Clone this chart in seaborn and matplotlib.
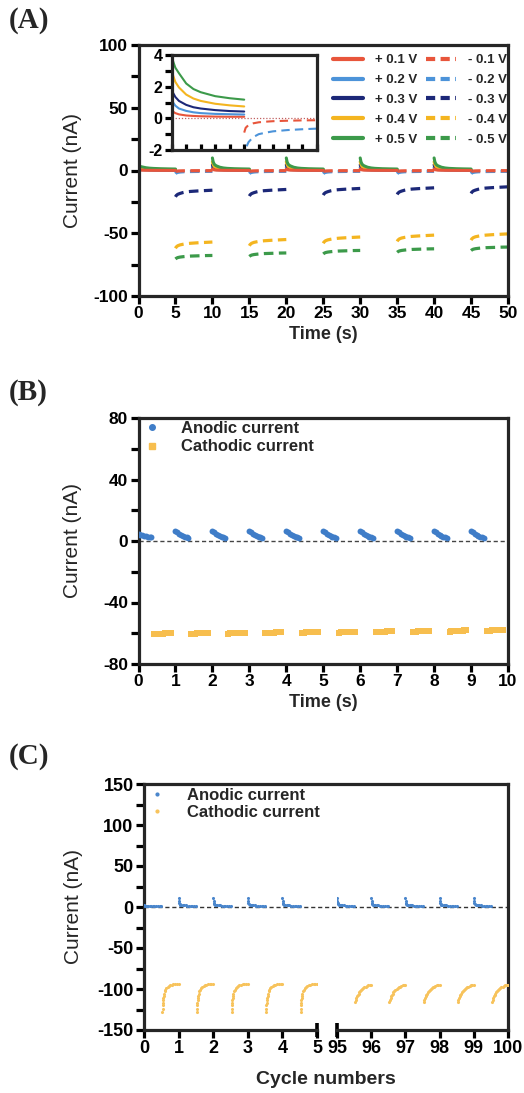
import numpy as np
import pandas as pd
import matplotlib
matplotlib.use("Agg")
import matplotlib.pyplot as plt
from matplotlib.lines import Line2D
from matplotlib.ticker import MultipleLocator
import seaborn as sns

# ------------------------------------------------------------------ data
# Panel A : current transients for +/- voltage pulses (5 s each, 10 s cycle)
voltages = ["0.1", "0.2", "0.3", "0.4", "0.5"]
colors_A = ["#E8553B", "#4C93D9", "#1C2878", "#F4B520", "#3C9A4A"]
cycle_starts_A = [0, 10, 20, 30, 40]

t_pos = [0, 0.1, 0.25, 0.5, 1.0, 1.5, 2.0, 3.0, 4.0, 5.0]
pos_first = {
    "0.1": [0.55, 0.42, 0.33, 0.25, 0.18, 0.15, 0.13, 0.11, 0.10, 0.10],
    "0.2": [1.30, 1.00, 0.80, 0.62, 0.47, 0.38, 0.33, 0.28, 0.26, 0.24],
    "0.3": [1.90, 1.60, 1.35, 1.10, 0.85, 0.70, 0.62, 0.52, 0.46, 0.43],
    "0.4": [3.10, 2.70, 2.30, 1.95, 1.50, 1.25, 1.10, 0.92, 0.82, 0.75],
    "0.5": [4.00, 3.60, 3.20, 2.85, 2.20, 1.85, 1.65, 1.40, 1.27, 1.18],
}
pos_later = {
    "0.1": [1.2, 0.8, 0.5, 0.3, 0.2, 0.15, 0.13, 0.11, 0.10, 0.10],
    "0.2": [2.5, 1.6, 1.0, 0.7, 0.5, 0.4, 0.33, 0.28, 0.26, 0.24],
    "0.3": [4.5, 3.0, 2.0, 1.3, 0.9, 0.7, 0.62, 0.52, 0.46, 0.43],
    "0.4": [7.0, 4.8, 3.2, 2.2, 1.6, 1.3, 1.10, 0.92, 0.82, 0.75],
    "0.5": [10.0, 7.0, 5.0, 3.8, 2.6, 2.0, 1.70, 1.40, 1.27, 1.18],
}
t_neg = [5.0, 5.1, 5.3, 5.6, 6.0, 6.5, 7.0, 8.0, 9.0, 10.0]
neg_profile = {
    "0.1": [-0.9, -0.6, -0.42, -0.32, -0.25, -0.21, -0.18, -0.15, -0.13, -0.12],
    "0.2": [-2.6, -1.9, -1.5, -1.2, -1.0, -0.9, -0.82, -0.74, -0.69, -0.65],
    "0.3": [-21.0, -20.0, -19.0, -18.3, -17.6, -17.0, -16.7, -16.3, -16.0, -15.7],
    "0.4": [-62.0, -61.0, -60.0, -59.3, -58.8, -58.3, -58.0, -57.6, -57.3, -57.0],
    "0.5": [-70.5, -70.0, -69.4, -69.0, -68.7, -68.4, -68.2, -68.0, -67.8, -67.7],
}
neg_shift = {
    "0.1": [0, 0, 0, 0, 0],
    "0.2": [0, 0, 0, 0, 0],
    "0.3": [0, 0.6, 1.4, 1.9, 2.7],
    "0.4": [0, 2.0, 4.0, 5.5, 6.5],
    "0.5": [0, 2.0, 4.0, 5.3, 6.7],
}

# Panel B : 10 cycles of 1 s
cycles_B = [0, 1, 2, 3, 4, 5, 6, 7, 8, 9]
anodic_B_t = [0, 0.05, 0.10, 0.15, 0.20, 0.25, 0.30, 0.35]
anodic_B_first = [4.6, 4.2, 3.8, 3.4, 3.0, 2.7, 2.5, 2.4]
anodic_B_later = [6.3, 5.6, 4.8, 4.0, 3.4, 2.8, 2.4, 2.1]
cathodic_B_t = [0.42, 0.47, 0.52, 0.57, 0.62, 0.67, 0.72, 0.77, 0.82, 0.87]
cathodic_B_level = [-60.2, -60.0, -59.8, -59.6, -59.3, -59.1, -58.9, -58.7, -58.4, -58.1]
cathodic_B_shape = [-0.5, -0.3, -0.2, -0.1, 0, 0, 0.1, 0.1, 0.2, 0.2]

# Panel C : first and last five cycles
cycles_C_early = [0, 1, 2, 3, 4]
cycles_C_late = [95, 96, 97, 98, 99]
anodic_C_t = [0, 0.01, 0.02, 0.03, 0.05, 0.08, 0.12, 0.16, 0.20, 0.25, 0.30, 0.35, 0.40, 0.45, 0.50]
anodic_C_spike = [10.5, 7.0, 4.5, 3.3, 3.0, 2.7, 2.4, 2.2, 2.0, 1.8, 1.6, 1.5, 1.4, 1.3, 1.2]
anodic_C_first = [2.0, 1.9, 1.8, 1.8, 1.7, 1.7, 1.6, 1.6, 1.5, 1.5, 1.4, 1.4, 1.3, 1.3, 1.2]
cathodic_C_t_early = [0.53, 0.535, 0.54, 0.545, 0.55, 0.56, 0.57, 0.58, 0.60, 0.62, 0.65,
                      0.68, 0.72, 0.76, 0.80, 0.85, 0.90, 0.95, 1.00]
cathodic_C_early = [-128, -124, -120, -117, -114, -111, -108, -106, -103, -101, -99,
                    -97.5, -96.5, -95.5, -95, -94.5, -94.2, -94, -94]
cathodic_C_t_late = [0.53, 0.55, 0.57, 0.59, 0.61, 0.63, 0.65, 0.68, 0.71, 0.74, 0.77,
                     0.80, 0.84, 0.88, 0.92, 0.96, 1.00]
cathodic_C_late = [-116, -113, -110.5, -108.5, -107, -105.5, -104, -102.5, -101, -100, -99,
                   -98, -97, -96.3, -95.7, -95.2, -94.8]

# ------------------------------------------------------------------ tables
rows = []
for v in voltages:
    for c, start in enumerate(cycle_starts_A):
        prof = pos_first[v] if c == 0 else pos_later[v]
        for t, i in zip(t_pos, prof):
            rows.append(dict(v=v, pol="+", cycle=c, t=start + t, i=i))
        for t, i in zip(t_neg, neg_profile[v]):
            rows.append(dict(v=v, pol="-", cycle=c, t=start + t, i=i + neg_shift[v][c]))
dfA = pd.DataFrame(rows)

rows = []
for k in cycles_B:
    prof = anodic_B_first if k == 0 else anodic_B_later
    for t, i in zip(anodic_B_t, prof):
        rows.append(dict(kind="Anodic", t=k + t, i=i))
    for t, s in zip(cathodic_B_t, cathodic_B_shape):
        rows.append(dict(kind="Cathodic", t=k + t, i=cathodic_B_level[k] + s))
dfB = pd.DataFrame(rows)

rows = []
for k in cycles_C_early + cycles_C_late:
    prof = anodic_C_first if k == 0 else anodic_C_spike
    for t, i in zip(anodic_C_t, prof):
        rows.append(dict(kind="Anodic", t=k + t, i=i))
    tt, ii = (cathodic_C_t_early, cathodic_C_early) if k < 50 else (cathodic_C_t_late, cathodic_C_late)
    for t, i in zip(tt, ii):
        rows.append(dict(kind="Cathodic", t=k + t, i=i))
dfC = pd.DataFrame(rows)

# ------------------------------------------------------------------ style
sns.set_theme(style="ticks")
plt.rcParams["font.family"] = ["Liberation Sans", "DejaVu Sans"]
plt.rcParams["axes.unicode_minus"] = False
plt.rcParams["axes.linewidth"] = 2.3
for ax_ in ("xtick", "ytick"):
    plt.rcParams[f"{ax_}.major.width"] = 2.3
    plt.rcParams[f"{ax_}.minor.width"] = 2.3
    plt.rcParams[f"{ax_}.major.size"] = 6
    plt.rcParams[f"{ax_}.minor.size"] = 6
    plt.rcParams[f"{ax_}.color"] = "black"
    plt.rcParams[f"{ax_}.major.pad"] = 1.5

W, H = 524, 1093
fig = plt.figure(figsize=(W / 100, H / 100), dpi=100)


def box(l, t, r, b):
    return [l / W, 1 - b / H, (r - l) / W, (b - t) / H]


TICK_FS = 12.5
DASH = (0, (3.0, 1.7))


def style_ticks(ax, fs=TICK_FS):
    for lab in ax.get_xticklabels() + ax.get_yticklabels():
        lab.set_fontweight("bold")
        lab.set_fontsize(fs)


# ------------------------------------------------------------------ Panel A
axA = fig.add_axes(box(138.5, 45, 508, 296))
order = ["0.2", "0.3", "0.4", "0.5", "0.1"]  # red on top
for v in order:
    col = colors_A[voltages.index(v)]
    sub = dfA[(dfA.v == v) & (dfA.pol == "-")]
    sns.lineplot(data=sub, x="t", y="i", units="cycle", estimator=None, color=col,
                 lw=2.3, linestyle=DASH, ax=axA, legend=False)
for v in order:
    col = colors_A[voltages.index(v)]
    sub = dfA[(dfA.v == v) & (dfA.pol == "+")]
    sns.lineplot(data=sub, x="t", y="i", units="cycle", estimator=None, color=col,
                 lw=2.2, ax=axA, legend=False)
axA.set_xlim(0, 50)
axA.set_ylim(-100, 100)
axA.xaxis.set_major_locator(MultipleLocator(5))
axA.yaxis.set_major_locator(MultipleLocator(50))
axA.yaxis.set_minor_locator(MultipleLocator(25))
axA.set_xlabel("Time (s)", fontsize=13, fontweight="bold", labelpad=3)
axA.set_ylabel("Current (nA)", fontsize=15, labelpad=8)
style_ticks(axA)

handles = [Line2D([], [], color=c, lw=3.0) for c in colors_A] + \
          [Line2D([], [], color=c, lw=3.0, linestyle=(0, (2.2, 1.3))) for c in colors_A]
labels = [f"+ {v} V" for v in voltages] + [f"- {v} V" for v in voltages]
axA.legend(handles, labels, ncol=2, frameon=False, loc="upper left",
           bbox_to_anchor=(333 / W, 1 - 54 / H), bbox_transform=fig.transFigure,
           prop=dict(weight="bold", size=9.5), handlelength=2.3, handletextpad=0.9,
           columnspacing=0.6, labelspacing=0.58, borderpad=0, borderaxespad=0)

# inset
axI = fig.add_axes(box(171.7, 55, 316.7, 150))
sub0 = dfA[dfA.cycle == 0]
for v in voltages:
    col = colors_A[voltages.index(v)]
    s = sub0[(sub0.v == v) & (sub0.pol == "+")]
    sns.lineplot(data=s, x="t", y="i", estimator=None, color=col, lw=1.5, ax=axI, legend=False)
    s = sub0[(sub0.v == v) & (sub0.pol == "-")]
    sns.lineplot(data=s, x="t", y="i", estimator=None, color=col, lw=1.5,
                 linestyle=(0, (4, 2.5)), ax=axI, legend=False)
axI.axhline(0, color="#c06060", lw=0.9, ls=(0, (1, 1.5)), zorder=0)
axI.set_xlim(0, 10)
axI.set_ylim(-2, 4)
axI.xaxis.set_major_locator(MultipleLocator(1))
axI.yaxis.set_major_locator(MultipleLocator(2))
axI.yaxis.set_minor_locator(MultipleLocator(1))
axI.tick_params(axis="x", direction="in", length=4, labelbottom=False)
axI.tick_params(axis="y", length=5, which="both")
axI.set_xlabel("")
axI.set_ylabel("")
style_ticks(axI, 11.5)

# ------------------------------------------------------------------ Panel B
blueB, yellowB = "#3F7DC8", "#F7BE4E"
axB = fig.add_axes(box(138.5, 418, 508, 664))
axB.axhline(0, color="#444444", lw=1.0, ls=(0, (3, 2)), zorder=1)
sns.scatterplot(data=dfB[dfB.kind == "Anodic"], x="t", y="i", color=blueB, marker="o",
                s=18, linewidth=0, ax=axB, legend=False, zorder=3)
sns.scatterplot(data=dfB[dfB.kind == "Cathodic"], x="t", y="i", color=yellowB, marker="s",
                s=20, linewidth=0, ax=axB, legend=False, zorder=3)
axB.set_xlim(0, 10)
axB.set_ylim(-80, 80)
axB.xaxis.set_major_locator(MultipleLocator(1))
axB.yaxis.set_major_locator(MultipleLocator(40))
axB.yaxis.set_minor_locator(MultipleLocator(20))
axB.set_xlabel("Time (s)", fontsize=13, fontweight="bold", labelpad=3)
axB.set_ylabel("Current (nA)", fontsize=15, labelpad=15)
style_ticks(axB)
hB = [Line2D([], [], color=blueB, marker="o", ls="none", markersize=4),
      Line2D([], [], color=yellowB, marker="s", ls="none", markersize=4)]
axB.legend(hB, ["Anodic current", "Cathodic current"], frameon=False, loc="upper left",
           bbox_to_anchor=(144 / W, 1 - 421 / H), bbox_transform=fig.transFigure,
           prop=dict(weight="bold", size=12), handlelength=1.0, handletextpad=1.2,
           labelspacing=0.2, borderpad=0, borderaxespad=0)

# ------------------------------------------------------------------ Panel C
blueC, yellowC = "#4A86CC", "#F7C35C"
axBG = fig.add_axes(box(144, 784, 508, 1030))
axBG.set_xlim(0, 1)
axBG.set_ylim(-150, 150)
axBG.axhline(0, color="#333333", lw=1.0, ls=(0, (3, 2)), zorder=1)
for sp in ("left", "right", "bottom"):
    axBG.spines[sp].set_visible(False)
axBG.set_xticks([])
axBG.set_yticks([])
axBG.patch.set_alpha(0)

axL = fig.add_axes(box(144, 784, 317, 1030))
axR = fig.add_axes(box(337, 784, 508, 1030))
for ax_, lo, hi in ((axL, 0, 5), (axR, 95, 100)):
    ax_.patch.set_alpha(0)
    sel = dfC[(dfC.t >= lo) & (dfC.t <= hi + 0.001)]
    sns.scatterplot(data=sel[sel.kind == "Anodic"], x="t", y="i", color=blueC, marker="o",
                    s=5, linewidth=0, ax=ax_, legend=False, zorder=3)
    sns.scatterplot(data=sel[sel.kind == "Cathodic"], x="t", y="i", color=yellowC, marker="o",
                    s=5, linewidth=0, ax=ax_, legend=False, zorder=3)
    ax_.set_xlim(lo, hi)
    ax_.set_ylim(-150, 150)
    ax_.xaxis.set_major_locator(MultipleLocator(1))
    ax_.spines["top"].set_visible(False)
    ax_.set_xlabel("")
    ax_.set_ylabel("")
axL.spines["right"].set_visible(False)
axR.spines["left"].set_visible(False)
axR.set_yticks([])
axL.yaxis.set_major_locator(MultipleLocator(50))
axL.yaxis.set_minor_locator(MultipleLocator(25))
axL.set_ylabel("Current (nA)", fontsize=15, labelpad=10)
style_ticks(axL, 13)
style_ticks(axR, 13)
for ax_, xpos in ((axL, 1), (axR, 0)):
    ax_.plot([xpos, xpos], [-0.03, 0.03], transform=ax_.transAxes, color="black",
             lw=2.6, clip_on=False, solid_capstyle="butt")
fig.text((144 + 508) / 2 / W, 1 - 1079 / H, "Cycle numbers", ha="center", va="center",
         fontsize=14, fontweight="bold")
hC = [Line2D([], [], color=blueC, marker="o", ls="none", markersize=2),
      Line2D([], [], color=yellowC, marker="o", ls="none", markersize=2)]
axL.legend(hC, ["Anodic current", "Cathodic current"], frameon=False, loc="upper left",
           bbox_to_anchor=(149 / W, 1 - 788 / H), bbox_transform=fig.transFigure,
           prop=dict(weight="bold", size=12), handlelength=1.0, handletextpad=1.3,
           labelspacing=0.1, borderpad=0, borderaxespad=0)

# ------------------------------------------------------------------ panel letters
for txt, y in (("(A)", 20), ("(B)", 392), ("(C)", 757)):
    fig.text(9 / W, 1 - y / H, txt, fontfamily="Liberation Serif", fontweight="bold",
             fontsize=21, va="center", ha="left")

fig.savefig("out.png", dpi=100)
